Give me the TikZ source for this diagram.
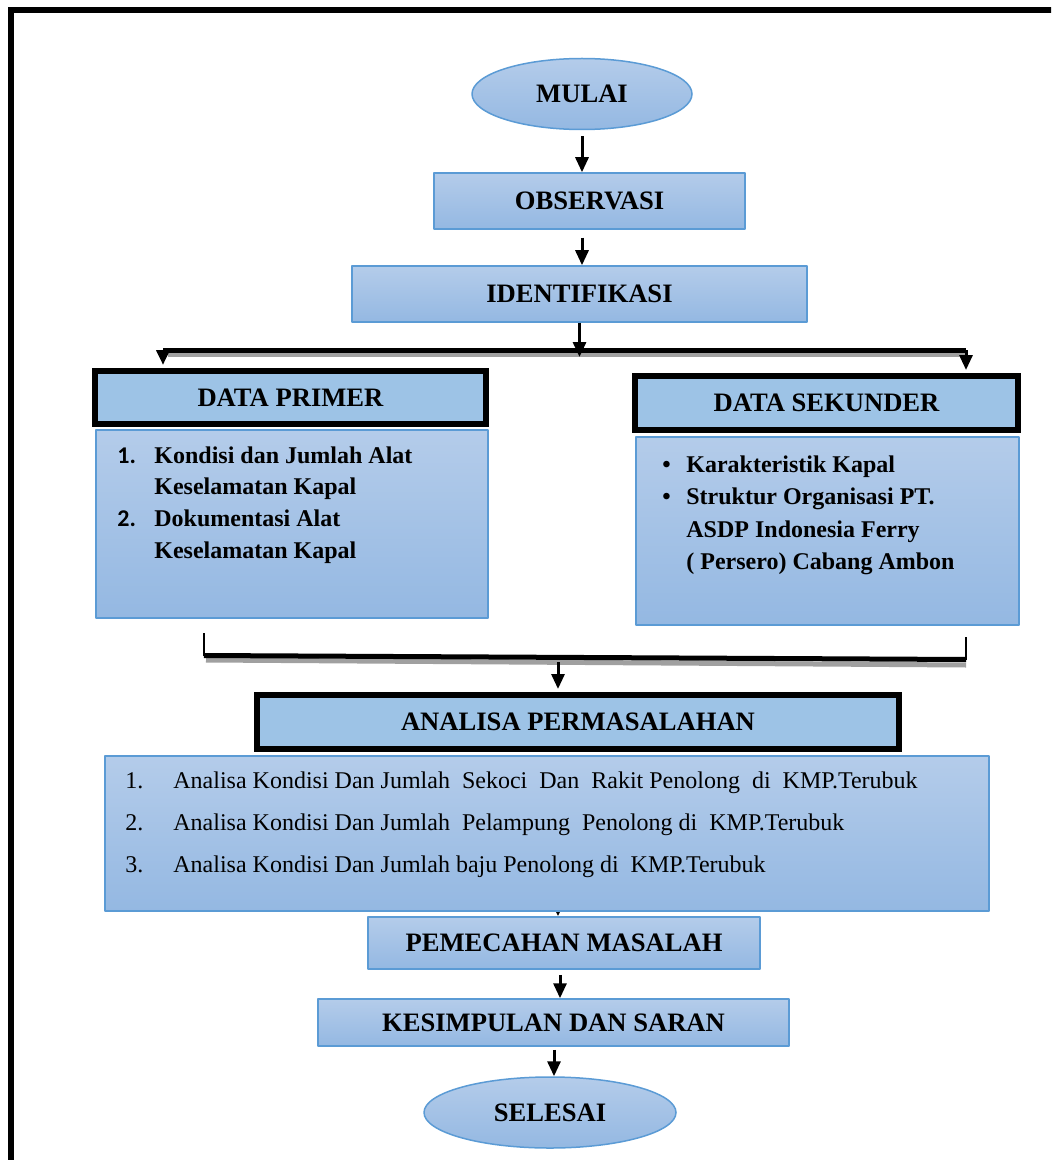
\documentclass[tikz,border=0pt]{standalone}
\usepackage{fontspec}
\setmainfont{Liberation Serif}
\newfontfamily\angka{Carlito}
\usetikzlibrary{arrows.meta,shapes.geometric,backgrounds}
\definecolor{isiatas}{HTML}{B4CCEA}
\definecolor{isibawah}{HTML}{94B8E2}
\definecolor{garis}{HTML}{5B9BD5}
\definecolor{judul}{HTML}{9DC3E6}
\definecolor{bayang}{HTML}{A0A0A0}

\begin{document}
\begin{tikzpicture}[x=0.5pt,y=-0.5pt,line cap=round,line join=round,>={Triangle[width=6.5pt,length=7.5pt]},
	kotak/.style={draw=garis,line width=0.75pt,top color=isiatas,bottom color=isibawah,inner sep=0pt,font=\fontsize{13.3}{16}\selectfont\bfseries},
	ujung/.style={kotak,ellipse},
	judulbox/.style={draw=black,line width=3pt,fill=judul,line join=miter,inner sep=0pt,font=\fontsize{13.3}{16}\selectfont\bfseries},
	teks/.style={anchor=base west,inner sep=0pt},
	panah/.style={->,line width=1.5pt,line cap=butt},
	bus/.style={line width=2.5pt,line cap=butt},
	bayangan/.style={bayang,line width=2.5pt,line cap=butt}]
		\useasboundingbox (0,0) rectangle (1051,1160);
		\clip (0,0) rectangle (1051,1160);
		\draw [line width=3pt,line join=miter] (11,10) rectangle (1100,1220);
		% alur atas
		\node[ujung,minimum width=110pt,minimum height=35.5pt] (mulai) at (582,94) {MULAI};
		\node[kotak,minimum width=155.5pt,minimum height=28pt] (observasi) at (589.5,201) {OBSERVASI};
		\node[kotak,minimum width=227.5pt,minimum height=28pt] (identifikasi) at (579.5,294) {IDENTIFIKASI};
		% data
		\node[judulbox,minimum width=195.5pt,minimum height=26.5pt] (dataprimer) at (290.5,397.5) {DATA PRIMER};
		\node[kotak,minimum width=196pt,minimum height=94pt] (primerisi) at (292,524) {};
		\node[teks,font=\fontsize{12}{15.9}\selectfont\bfseries] (primerteks) at (117,463) {\begin{tabular}[t]{@{}p{18.5pt}@{}l@{}}
			{\angka 1.} & Kondisi dan Jumlah Alat\\
			 & Keselamatan Kapal\\
			{\angka 2.} & Dokumentasi Alat\\
			 & Keselamatan Kapal
		\end{tabular}};
		\node[judulbox,minimum width=191.5pt,minimum height=27pt] (datasekunder) at (826.5,403) {DATA SEKUNDER};
		\node[kotak,minimum width=191.5pt,minimum height=94pt] (sekunderisi) at (827.5,531) {};
		\node[teks,font=\fontsize{12}{16.25}\selectfont\bfseries] (sekunderteks) at (662,472) {\begin{tabular}[t]{@{}p{12pt}@{}l@{}}
			\textbullet & Karakteristik Kapal\\
			\textbullet & Struktur\ Organisasi\ PT.\\
			 & ASDP Indonesia Ferry\\
			 & ( Persero) Cabang Ambon
		\end{tabular}};
		% analisa
		\node[judulbox,minimum width=321pt,minimum height=27pt] (analisa) at (578,722) {ANALISA PERMASALAHAN};
		\node[kotak,minimum width=442pt,minimum height=77.5pt] (analisaisi) at (547,833.5) {};
		\node[teks,font=\fontsize{12}{21}\selectfont] (analisateks) at (125,788) {\begin{tabular}[t]{@{}p{24pt}@{}l@{}}
			1. & Analisa Kondisi Dan Jumlah\ \ Sekoci\ \ Dan\ \ Rakit Penolong\ \ di\ \ KMP.Terubuk\\
			2. & Analisa Kondisi Dan Jumlah\ \ Pelampung\ \ Penolong di\ \ KMP.Terubuk\\
			3. & Analisa Kondisi Dan Jumlah baju Penolong di\ \ KMP.Terubuk
		\end{tabular}};
		% alur bawah
		\node[kotak,minimum width=196pt,minimum height=26pt] (pemecahan) at (564,943) {PEMECAHAN MASALAH};
		\node[kotak,minimum width=235.5pt,minimum height=23.5pt] (kesimpulan) at (553.5,1022.5) {KESIMPULAN DAN SARAN};
		\node[ujung,minimum width=126pt,minimum height=35.5pt] (selesai) at (550,1112.5) {SELESAI};
		% penghubung
		\coordinate (busL) at (163,350);
		\coordinate (busR) at (966,350);
		\coordinate (busT) at (579.5,357);
		\coordinate (kiriB) at (204,633);
		\coordinate (kananB) at (966,637);
		\coordinate (busB) at (558,662);
		\coordinate (kolA) at (560,0);
		\coordinate (kolB) at (554,0);
		\draw[panah] ([yshift=-3pt]mulai.south) -- (mulai.south |- observasi.north);
		\draw[panah] ([yshift=-4pt]mulai.south |- observasi.south) -- (mulai.south |- identifikasi.north);
		\draw[bayangan] (168,354.5) -- (966,354.5);
		\draw[bus] (busL) -- (busR);
		\draw[panah] (identifikasi.south) -- (busT);
		\draw[panah,line width=2pt] (busL) -- ([yshift=1.5pt]busL |- dataprimer.north);
		\draw[panah] (busR) -- ([yshift=1.5pt]busR |- datasekunder.north);
		\draw[bayangan] (206,660) -- (966,665);
		\draw[line width=1.2pt,line cap=butt] (kiriB) -- (204,656);
		\draw[line width=1.2pt,line cap=butt] (kananB) -- (966,660);
		\draw[bus] (204,655.5) -- (966,659.5);
		\draw[panah] (busB) -- ([yshift=1.5pt]busB |- analisa.north);
		\begin{scope}[on background layer]
			\draw[panah] ([yshift=8pt]busB |- analisaisi.south) -- (busB |- pemecahan.north);
		\end{scope}
		\draw[panah] ([yshift=-2.5pt]kolA |- pemecahan.south) -- (kolA |- kesimpulan.north);
		\draw[panah] ([yshift=-1.5pt]kolB |- kesimpulan.south) -- (kolB |- selesai.north);
\end{tikzpicture}
\end{document}
